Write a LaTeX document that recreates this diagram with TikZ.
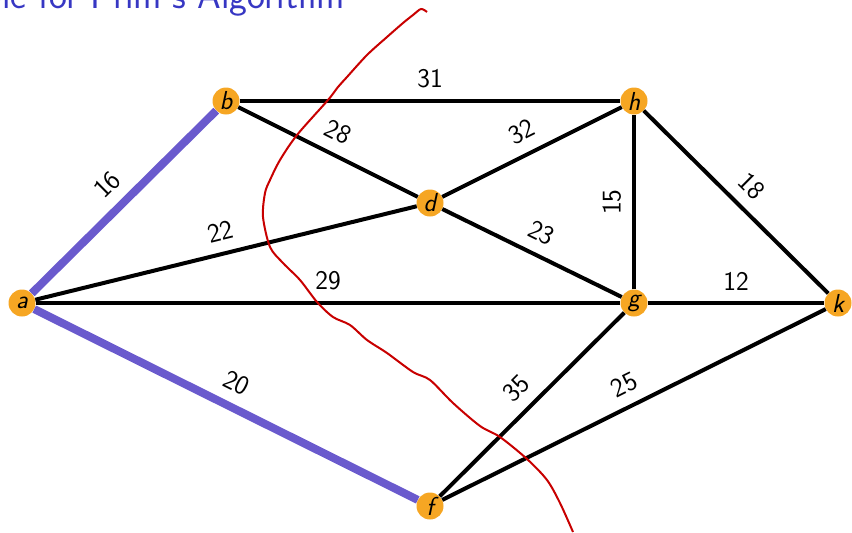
\documentclass[tikz,border=0pt]{standalone}
\usepackage{tikz}
\definecolor{nodeorange}{RGB}{246,166,35}
\definecolor{treepurple}{RGB}{106,90,205}
\definecolor{cutred}{RGB}{200,0,0}
\definecolor{titleblue}{RGB}{55,55,195}
\tikzset{
  vtx/.style={circle,fill=nodeorange,inner sep=0pt,minimum size=27pt,
    font=\sffamily\itshape\fontsize{26}{28}\selectfont},
  edge/.style={line width=4pt,black},
  treeedge/.style={line width=8pt,treepurple},
  wlabel/.style={midway,sloped,above,inner sep=11pt,text=black,
    font=\sffamily\fontsize{27}{30}\selectfont},
  cut/.style={line width=2pt,cutred},
}
\begin{document}
\begin{tikzpicture}[x=1pt,y=-1pt]
\useasboundingbox (0,0) rectangle (852,533);
\node[anchor=base east,text=titleblue,inner sep=0pt,
  font=\sffamily\fontsize{38}{42}\selectfont] (title) at (345,8) {Example for Prim's Algorithm};
\node[vtx] (a) at (22,303) {a};
\node[vtx] (b) at (226,101) {b};
\node[vtx] (h) at (634,101) {h};
\node[vtx] (d) at (430,203) {d};
\node[vtx] (g) at (634,303) {g};
\node[vtx] (k) at (838,303) {k};
\node[vtx] (f) at (430,506) {f};
\draw[edge] (b) -- node[wlabel] {31} (h);
\draw[edge] (b) -- node[wlabel] {28} (d);
\draw[edge] (d) -- node[wlabel] {32} (h);
\draw[edge] (a) -- node[wlabel] {22} (d);
\draw[edge] (d) -- node[wlabel] {23} (g);
\draw[edge] (g) -- node[wlabel] {15} (h);
\draw[edge] (h) -- node[wlabel] {18} (k);
\draw[edge] (a) -- node[wlabel] {29} (g);
\draw[edge] (g) -- node[wlabel] {12} (k);
\draw[edge] (f) -- node[wlabel] {35} (g);
\draw[edge] (f) -- node[wlabel] {25} (k);
\draw[treeedge] (a) -- node[wlabel] {16} (b);
\draw[treeedge] (a) -- node[wlabel] {20} (f);
\draw[cut] plot[smooth,tension=0.5] coordinates {
 (427,12) (421,9) (413,15) (403,23) (387,37) (367,55) (347,77) (338,87)
 (328,100) (297,135) (280,160) (270,180) (265,193) (263,217) (270,247)
 (283,263) (300,280) (317,302) (333,317) (350,325) (367,340) (387,353)
 (413,372) (430,380) (453,403) (480,426) (500,437) (527,459) (547,480)
 (560,503) (573,532)};
\end{tikzpicture}
\end{document}
